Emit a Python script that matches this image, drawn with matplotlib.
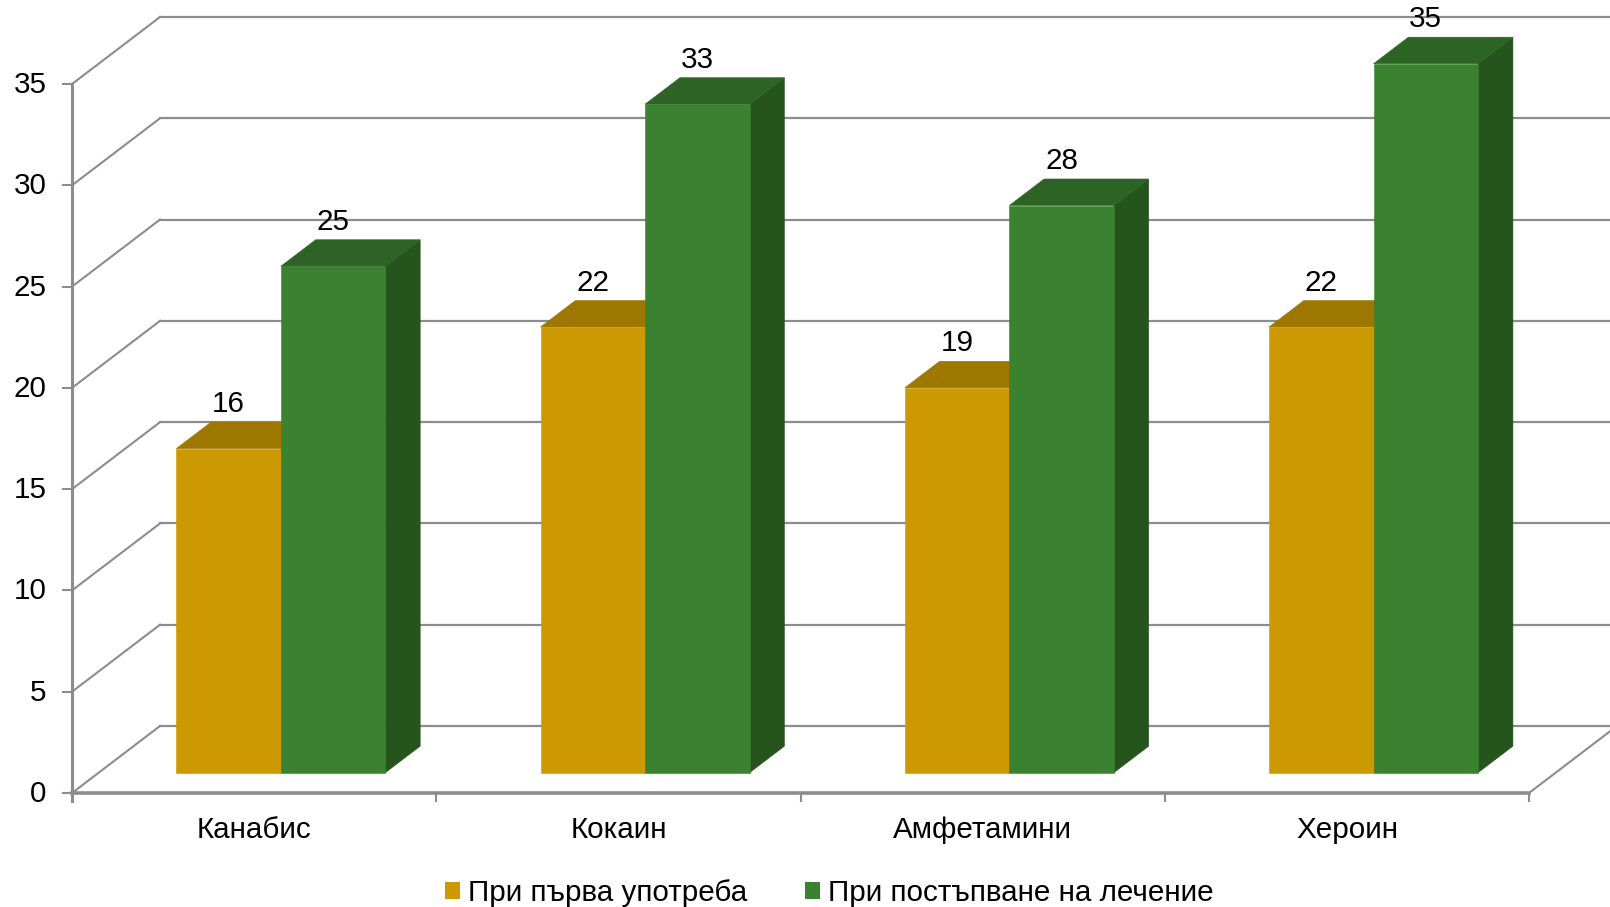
import matplotlib
matplotlib.use("Agg")
import matplotlib.pyplot as plt
from matplotlib.patches import Patch, Polygon

plt.rcParams['font.family'] = ['Liberation Sans', 'DejaVu Sans']

# -----------------------------
# Data
# -----------------------------
categories = ["Канабис", "Кокаин", "Амфетамини", "Хероин"]
first_use = [16, 22, 19, 22]
at_treatment = [25, 33, 28, 35]
series_names = ["При първа употреба", "При постъпване на лечение"]
y_ticks = [0, 5, 10, 15, 20, 25, 30, 35]

# -----------------------------
# Style
# -----------------------------
GRID = "#8c8c8c"
YELLOW = ("#CC9900", "#9E7700", "#7F6000")
GREEN = ("#3A822F", "#2E6326", "#26541D")
FONT_SIZE = 21.3

# how far the back wall sits from the front plane, in axis units
WALL_DX = 0.2416
WALL_DY = 3.307

BAR_W = 0.287
BAR_FRONT = 0.303
BAR_DEPTH = 0.396


def project(x, y, depth):
    return x + depth * WALL_DX, y + depth * WALL_DY


def draw_bar(ax, left, value, colors, z):
    right = left + BAR_W
    d0, d1 = BAR_FRONT, BAR_FRONT + BAR_DEPTH
    front = [project(left, 0, d0), project(right, 0, d0),
             project(right, value, d0), project(left, value, d0)]
    top = [project(left, value, d0), project(right, value, d0),
           project(right, value, d1), project(left, value, d1)]
    side = [project(right, 0, d0), project(right, 0, d1),
            project(right, value, d1), project(right, value, d0)]
    for pts, c in zip((side, top, front), (colors[2], colors[1], colors[0])):
        ax.add_patch(Polygon(pts, closed=True, facecolor=c, edgecolor=c,
                             linewidth=0.4, zorder=z))


fig = plt.figure(figsize=(16.1, 9.07), dpi=100)
ax = fig.add_axes([0, 0, 1, 1])
n = len(categories)
ax.set_xlim(-0.1977, 4.2224)
ax.set_ylim(-5.628, 39.147)
ax.axis("off")

# -----------------------------
# Walls and floor
# -----------------------------
for t in y_ticks:
    bx, by = project(0, t, 1)
    ex, _ = project(n, t, 1)
    ax.plot([0, bx], [t, by], color=GRID, lw=1.5, zorder=1)
    ax.plot([bx, ex], [by, by], color=GRID, lw=1.6, zorder=1)
    ax.plot([-0.024, 0], [t, t], color=GRID, lw=1.5, zorder=2)
    ax.text(-0.07, t - 0.05, str(t), ha="right", va="center", fontsize=FONT_SIZE, color="black")

bx, by = project(n, 0, 1)
ax.plot([n, bx], [0, by], color=GRID, lw=1.5, zorder=1)
ax.plot([0, 0], [-0.38, y_ticks[-1]], color=GRID, lw=2.2, zorder=2)
ax.plot([0, n], [0, 0], color=GRID, lw=2.6, zorder=2)
for i in range(n + 1):
    ax.plot([i, i], [-0.38, 0], color=GRID, lw=1.5, zorder=2)

# -----------------------------
# Bars and labels
# -----------------------------
offset = BAR_FRONT * WALL_DX
for i in range(n):
    center = i + 0.5
    draw_bar(ax, center - BAR_W, first_use[i], YELLOW, 3)
    draw_bar(ax, center, at_treatment[i], GREEN, 4)
    ax.text(center - BAR_W / 2 + offset, first_use[i] + 3.2, str(first_use[i]),
            ha="center", va="center", fontsize=FONT_SIZE, zorder=6)
    ax.text(center + BAR_W / 2 + offset, at_treatment[i] + 3.2, str(at_treatment[i]),
            ha="center", va="center", fontsize=FONT_SIZE, zorder=6)
    ax.text(i + 0.5, -1.85, categories[i], ha="center", va="center", fontsize=FONT_SIZE)

handles = [Patch(facecolor=YELLOW[0], label=series_names[0]),
           Patch(facecolor=GREEN[0], label=series_names[1])]
ax.legend(handles=handles, loc="center", bbox_to_anchor=(0.515, 0.0155), ncol=2, frameon=False,
          fontsize=FONT_SIZE, handlelength=0.51, handleheight=0.52, handletextpad=0.28,
          columnspacing=1.94, borderpad=0)

plt.savefig("out.png", dpi=100)
